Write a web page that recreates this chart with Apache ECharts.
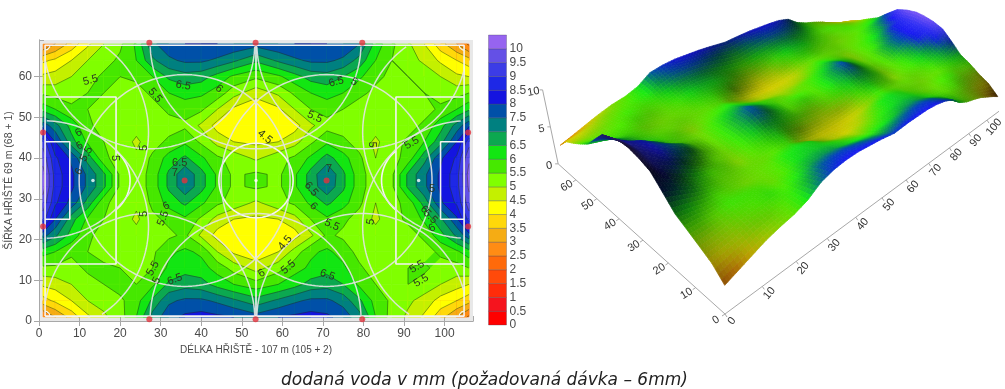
<!DOCTYPE html>
<html>
<head>
<meta charset="utf-8">
<title>dodaná voda</title>
<script src="https://cdn.jsdelivr.net/npm/echarts@6/dist/echarts.min.js"></script>
<style>
  html, body { margin: 0; padding: 0; background: #fff; }
  #chart { width: 1005px; height: 389px; }
</style>
</head>
<body>
<div id="chart"></div>
<script>
// grid of delivered water (mm)
const colX = [1, 4, 8, 12, 16, 20, 24, 28, 32, 36, 40, 44, 48, 53.5, 59, 63, 67, 71, 75, 79, 83, 87, 91, 95, 99, 103, 106];
const rowY = [68, 64, 60, 56, 52, 48, 44, 40, 36, 33, 29, 25, 21, 17, 13, 9, 5, 1];
const row68 = [2.5, 3.0, 3.7, 4.4, 5.0, 5.4, 6.1, 7.4, 7.8, 8.0, 8.0, 8.0, 7.9, 7.7, 7.9, 8.0, 8.0, 8.0, 7.9, 7.5, 6.3, 5.6, 5.1, 4.5, 3.7, 3.0, 2.4];
const row64 = [3.9, 4.1, 4.5, 5.0, 5.3, 5.6, 6.0, 6.9, 7.4, 7.6, 7.6, 7.4, 7.1, 6.6, 7.1, 7.4, 7.6, 7.6, 7.4, 6.8, 6.0, 5.5, 5.2, 4.9, 4.4, 4.0, 3.7];
const row60 = [4.6, 4.7, 5.0, 5.3, 5.6, 5.5, 5.6, 6.0, 6.6, 6.8, 6.7, 6.3, 5.9, 5.6, 5.9, 6.3, 6.7, 6.8, 6.5, 6.1, 5.6, 5.4, 5.5, 5.3, 5.0, 4.6, 4.5];
const row56 = [5.4, 5.3, 5.3, 5.5, 5.5, 5.3, 5.3, 5.6, 6.0, 6.2, 6.1, 5.8, 5.2, 4.7, 5.1, 5.6, 6.0, 6.2, 6.0, 5.6, 5.4, 5.2, 5.3, 5.5, 5.3, 5.3, 5.5];
const row52 = [6.3, 6.0, 5.6, 5.5, 5.2, 5.1, 5.2, 5.3, 5.6, 5.7, 5.6, 5.0, 4.4, 4.1, 4.4, 5.0, 5.5, 5.7, 5.5, 5.3, 5.2, 5.1, 5.2, 5.3, 5.6, 6.0, 6.4];
const row48 = [7.8, 7.2, 6.3, 5.6, 5.3, 5.2, 5.2, 5.2, 5.3, 5.4, 4.9, 4.3, 4.1, 4.0, 4.1, 4.3, 4.9, 5.3, 5.3, 5.2, 5.2, 5.2, 5.3, 5.6, 6.3, 7.2, 7.9];
const row44 = [9.3, 8.0, 6.7, 5.9, 5.5, 5.3, 4.9, 5.3, 5.6, 5.9, 5.4, 4.8, 4.5, 4.4, 4.5, 4.8, 5.4, 5.9, 5.6, 5.3, 4.9, 5.3, 5.6, 6.0, 6.8, 8.0, 9.3];
const row40 = [9.8, 8.6, 7.9, 6.8, 5.6, 5.3, 5.1, 5.6, 6.2, 6.6, 6.1, 5.6, 5.3, 4.9, 5.3, 5.6, 6.1, 6.7, 6.2, 5.6, 5.0, 5.3, 5.7, 6.8, 7.9, 8.6, 9.9];
const row36 = [10.2, 8.8, 8.1, 7.4, 6.6, 5.4, 5.2, 5.7, 6.6, 7.4, 6.7, 5.9, 5.4, 5.6, 5.4, 5.9, 6.7, 7.5, 6.6, 5.7, 5.2, 5.4, 6.6, 7.4, 8.1, 8.8, 10.2];
const row33 = [10.2, 8.8, 8.1, 7.4, 6.6, 5.4, 5.2, 5.7, 6.6, 7.4, 6.7, 5.9, 5.4, 5.6, 5.4, 5.9, 6.7, 7.4, 6.6, 5.7, 5.2, 5.4, 6.6, 7.4, 8.1, 8.8, 10.1];
const row29 = [9.8, 8.6, 7.8, 6.8, 5.6, 5.3, 5.1, 5.6, 6.2, 6.6, 6.1, 5.6, 5.3, 4.9, 5.3, 5.6, 6.1, 6.6, 6.2, 5.6, 5.0, 5.3, 5.7, 6.7, 7.9, 8.6, 9.8];
const row25 = [9.2, 8.0, 6.7, 5.9, 5.5, 5.3, 4.9, 5.4, 5.6, 5.9, 5.4, 4.8, 4.5, 4.4, 4.5, 4.8, 5.5, 5.9, 5.6, 5.3, 4.9, 5.3, 5.6, 6.1, 6.9, 7.9, 9.2];
const row21 = [7.7, 7.1, 6.3, 5.6, 5.3, 5.2, 5.2, 5.2, 5.4, 5.6, 4.9, 4.3, 4.1, 4.0, 4.1, 4.3, 4.9, 5.6, 5.4, 5.2, 5.2, 5.2, 5.3, 5.6, 6.3, 7.1, 7.8];
const row17 = [6.2, 6.0, 5.6, 5.5, 5.3, 5.1, 5.2, 5.4, 5.9, 6.1, 5.9, 5.0, 4.4, 4.1, 4.5, 5.2, 5.9, 6.1, 5.8, 5.3, 5.2, 5.1, 5.2, 5.3, 5.6, 5.9, 6.3];
const row13 = [5.4, 5.4, 5.3, 5.6, 5.6, 5.5, 5.2, 5.5, 6.1, 6.3, 6.2, 5.8, 5.3, 4.8, 5.3, 5.8, 6.1, 6.3, 6.1, 5.6, 5.2, 5.2, 5.5, 5.6, 5.3, 5.3, 5.5];
const row9 = [4.6, 4.7, 5.0, 5.3, 5.5, 5.7, 5.5, 5.9, 6.6, 6.8, 6.7, 6.3, 6.0, 5.7, 6.0, 6.3, 6.7, 6.8, 6.5, 5.9, 5.5, 5.3, 5.5, 5.3, 5.0, 4.7, 4.5];
const row5 = [3.8, 4.1, 4.5, 5.0, 5.2, 5.4, 5.8, 6.6, 7.4, 7.6, 7.6, 7.4, 7.1, 6.7, 7.1, 7.4, 7.6, 7.6, 7.3, 6.6, 5.8, 5.4, 5.1, 4.8, 4.3, 4.0, 3.7];
const row1 = [2.5, 3.0, 3.7, 4.4, 4.9, 5.3, 6.0, 7.2, 7.8, 8.1, 8.2, 8.1, 8.0, 7.7, 8.0, 8.1, 8.2, 8.1, 7.8, 7.2, 6.0, 5.3, 4.9, 4.4, 3.7, 3.0, 2.4];
const fieldRows = [row68, row64, row60, row56, row52, row48, row44, row40, row36, row33, row29, row25, row21, row17, row13, row9, row5, row1];

// colour bands, one per 0.5 mm step
const levels = [0, 0.5, 1, 1.5, 2, 2.5, 3, 3.5, 4, 4.5, 5, 5.5, 6, 6.5, 7, 7.5, 8, 8.5, 9, 9.5, 10];
const bandColors = ['#ff0000', '#f5141e', '#ff2c0a', '#ff4a0a', '#ff6a0a', '#ff8c14', '#f5ac14', '#ffd80a', '#ffff00', '#c4f000', '#80ff00', '#46e800', '#12e612', '#0ca850', '#008080', '#0050a8', '#1414e0', '#1e28e6', '#3c3ce6', '#6450e6', '#9664f0'];
const surfaceStops = [2, 3, 4, 4.5, 5, 5.5, 6, 6.5, 7, 7.5, 8, 9, 10, 11];
const surfaceColors = ['#b05008', '#d88008', '#d0c800', '#a4c800', '#74cc00', '#48e000', '#14e014', '#10a830', '#008060', '#0048a8', '#1414e8', '#3434e8', '#7050e8', '#9060f0'];

// pitch markings and sprinklers, in metres
const touchline = [[1.5, 1.2], [104.8, 1.2], [104.8, 67.7], [1.5, 67.7], [1.5, 1.2]];
const halfwayLine = [[53.5, 1.2], [53.5, 67.7]];
const penaltyLeft = [[1.5, 14], [19, 14], [19, 55], [1.5, 55]];
const penaltyRight = [[104.8, 14], [88, 14], [88, 55], [104.8, 55]];
const goalLeft = [[1.5, 25], [7.6, 25], [7.6, 44], [1.5, 44]];
const goalRight = [[104.8, 25], [99, 25], [99, 44], [104.8, 44]];
const sprinklers = [[27.2, 0.4], [53.4, 0.4], [79.7, 0.4], [27.2, 68.3], [53.4, 68.3], [79.7, 68.3], [1, 46.3], [1, 23.2], [105.8, 46.3], [105.8, 23.2], [35.9, 34.5], [70.9, 34.5]];
const spots = [[13.3, 34.5], [93.6, 34.5], [53.5, 34.5]];
const cornerSpots = [[1.5, 1.2], [104.8, 1.2], [1.5, 67.7], [104.8, 67.7]];
const centerCircle = { c: [53.5, 34.5], r: 9.15 };
const sprinklerRadius = 26;

// contour labels: x, y, text, rotation
const contourLabels = [
  [12.7, 59.1, '5.5', 15], [28.6, 55.4, '5.5', -50], [35.6, 57.8, '6.5', -10], [44.4, 57, '6', -45],
  [9.8, 46.2, '6', 30], [10, 43, '6', 30], [11.7, 41, '5.5', 60], [25.9, 42.5, '5', 90], [18.7, 40, '5', -90],
  [34.7, 38.8, '6.5', 0], [33.5, 36.3, '7', 0], [9.9, 36.7, '6', 60], [25.9, 26.3, '5', 90],
  [30.6, 25.2, '5.5', 70], [31.4, 28.2, '6', 30], [28.1, 12.9, '5.5', 60], [29, 9.9, '5', 60], [33.5, 10.2, '6.5', 20],
  [73.3, 58.7, '6.5', 15], [77.7, 58.7, '5', -30], [68, 50.1, '5.5', -25], [55.7, 45.2, '4.5', -40],
  [82, 43.3, '5', -90], [91.9, 43.7, '5.5', 30], [71.5, 37.3, '7', 0], [67.1, 32.4, '6.5', -50],
  [96.9, 32.4, '5', 0], [67.7, 28.2, '6', -45], [81.8, 24.4, '5', 80], [72.2, 23.6, '5.5', -25],
  [96.9, 22.8, '6', 30], [96.5, 25.6, '5.5', -45], [95, 27.4, '6', -45], [60.7, 19.2, '4.5', 50],
  [61.5, 13.2, '5.5', 40], [54.9, 11.7, '6', 30], [71.1, 11.3, '6.5', -20], [93.2, 13.3, '5.5', 30], [94.2, 9.9, '5.5', 30]
];

const xTicks3d = [0, 10, 20, 30, 40, 50, 60, 70, 80, 90, 100];
const yTicks3d = [0, 10, 20, 30, 40, 50, 60];
const zTicks3d = [0, 5, 10];

const axisGrey = '#a8a8a8';
const textGrey = '#4a4a4a';

function bandIndex(v) {
  return Math.max(0, Math.min(levels.length - 1, Math.floor(v / 0.5)));
}

// cells of the contour map
const cells = [];
for (let r = 0; r < rowY.length - 1; r++) {
  for (let c = 0; c < colX.length - 1; c++) cells.push([c, r]);
}

function cellCorners(c, r) {
  return [
    [colX[c], rowY[r], fieldRows[r][c]],
    [colX[c + 1], rowY[r], fieldRows[r][c + 1]],
    [colX[c + 1], rowY[r + 1], fieldRows[r + 1][c + 1]],
    [colX[c], rowY[r + 1], fieldRows[r + 1][c]]
  ];
}

// keep the part of the cell at or above level, returns polygon and crossing points
function clipCell(pts, level) {
  const poly = [];
  const cross = [];
  for (let i = 0; i < pts.length; i++) {
    const a = pts[i];
    const b = pts[(i + 1) % pts.length];
    if (a[2] >= level) poly.push(a);
    if ((a[2] >= level) !== (b[2] >= level)) {
      const t = (level - a[2]) / (b[2] - a[2]);
      const p = [a[0] + (b[0] - a[0]) * t, a[1] + (b[1] - a[1]) * t, level];
      poly.push(p);
      cross.push(p);
    }
  }
  return { poly, cross };
}

function renderBands(params, api) {
  const pts = cellCorners(api.value(0), api.value(1));
  const vals = pts.map(p => p[2]);
  const lo = bandIndex(Math.min.apply(null, vals));
  const hi = bandIndex(Math.max.apply(null, vals));
  const children = [];
  for (let b = lo; b <= hi; b++) {
    const poly = b === lo ? pts : clipCell(pts, levels[b]).poly;
    children.push({
      type: 'polygon',
      shape: { points: poly.map(p => api.coord([p[0], p[1]])) },
      style: { fill: bandColors[b], stroke: bandColors[b], lineWidth: 0.6 }
    });
  }
  return { type: 'group', children };
}

function renderContours(params, api) {
  const pts = cellCorners(api.value(0), api.value(1));
  const children = [];
  levels.forEach(lv => {
    const cross = clipCell(pts, lv).cross;
    for (let i = 0; i + 1 < cross.length; i += 2) {
      const p = api.coord([cross[i][0], cross[i][1]]);
      const q = api.coord([cross[i + 1][0], cross[i + 1][1]]);
      children.push({
        type: 'line',
        shape: { x1: p[0], y1: p[1], x2: q[0], y2: q[1] },
        style: { stroke: 'rgba(30,50,20,0.65)', lineWidth: 0.7 }
      });
    }
  });
  return { type: 'group', children };
}

function renderContourLabel(params, api) {
  const item = contourLabels[params.dataIndex];
  const p = api.coord([item[0], item[1]]);
  return {
    type: 'text',
    x: p[0],
    y: p[1],
    rotation: item[3] * Math.PI / 180,
    style: { text: item[2], fill: '#2c3a20', font: '11px "Liberation Sans"', align: 'center', verticalAlign: 'middle' }
  };
}

function renderColorBar(params, api) {
  const b = api.value(0);
  const p = api.coord([0, levels[b] + 0.5]);
  const q = api.coord([1, levels[b]]);
  return {
    type: 'rect',
    shape: { x: p[0], y: p[1], width: q[0] - p[0], height: q[1] - p[1] },
    style: { fill: bandColors[b], stroke: 'rgba(70,70,90,0.55)', lineWidth: 0.6 }
  };
}

// circle outline, cut where it leaves the allowed x range or the field
function circlePoints(c, r, xMin, xMax) {
  const lo = xMin === undefined ? 1.5 : xMin;
  const hi = xMax === undefined ? 104.8 : xMax;
  const out = [];
  for (let a = 0; a <= 180; a++) {
    const t = a * Math.PI / 90;
    const x = c[0] + r * Math.cos(t);
    const y = c[1] + r * Math.sin(t);
    if (x < lo || x > hi || y < 1.2 || y > 67.7) out.push([NaN, NaN]);
    else out.push([x, y]);
  }
  return out;
}

function lineSeries(points, color, width) {
  return {
    type: 'line', xAxisIndex: 0, yAxisIndex: 0, data: points, symbol: 'none', silent: true,
    connectNulls: false, animation: false, z: 4,
    lineStyle: { color: color, width: width }
  };
}

// perspective of the right hand surface
function project(x, y, z) {
  const den = 1 + 0.00495 * x + 0.00373 * y;
  const u = (725 + 7.506 * x - 0.336 * y) / den;
  const v = (314 - 1.344 * x - 1.565 * y) / den;
  const up = 9.3 * z / den;
  return [u + up * (u - 770) / (1170 - v), v - up];
}

function hexRgb(h) {
  return [parseInt(h.slice(1, 3), 16), parseInt(h.slice(3, 5), 16), parseInt(h.slice(5, 7), 16)];
}

function surfaceRgb(v) {
  let i = 0;
  while (i < surfaceStops.length - 2 && v > surfaceStops[i + 1]) i++;
  const t = Math.max(0, Math.min(1, (v - surfaceStops[i]) / (surfaceStops[i + 1] - surfaceStops[i])));
  const a = hexRgb(surfaceColors[i]);
  const b = hexRgb(surfaceColors[i + 1]);
  return [0, 1, 2].map(k => a[k] + (b[k] - a[k]) * t);
}

// shaded colour at each grid node, light comes from the -x +y side
const nodeRgb = rowY.map((y, r) => colX.map((x, c) => {
  const c0 = Math.max(0, c - 1), c1 = Math.min(colX.length - 1, c + 1);
  const r0 = Math.max(0, r - 1), r1 = Math.min(rowY.length - 1, r + 1);
  const dzx = (fieldRows[r][c1] - fieldRows[r][c0]) / (colX[c1] - colX[c0]);
  const dzy = (fieldRows[r1][c] - fieldRows[r0][c]) / (rowY[r1] - rowY[r0]);
  const nx = -dzx * 2.4, ny = -dzy * 2.4, len = Math.sqrt(nx * nx + ny * ny + 1);
  const lit = (nx * -0.6 + ny * 0.42 + 0.68) / len;
  const shade = Math.max(0.12, Math.min(1.05, 0.22 + 1.12 * lit));
  return surfaceRgb(fieldRows[r][c]).map(k => k * shade);
}));

const surfaceCells = cells.slice().sort((a, b) => {
  const da = 0.00495 * colX[a[0]] + 0.00373 * rowY[a[1]];
  const db = 0.00495 * colX[b[0]] + 0.00373 * rowY[b[1]];
  return db - da;
});

const SUB = 4;
function renderSurface(params, api) {
  const c = api.value(0), r = api.value(1);
  const xs = [colX[c], colX[c + 1]];
  const ys = [rowY[r], rowY[r + 1]];
  const node = (s, t) => {
    const w = [(1 - s) * (1 - t), s * (1 - t), s * t, (1 - s) * t];
    const zs = [fieldRows[r][c], fieldRows[r][c + 1], fieldRows[r + 1][c + 1], fieldRows[r + 1][c]];
    const cs = [nodeRgb[r][c], nodeRgb[r][c + 1], nodeRgb[r + 1][c + 1], nodeRgb[r + 1][c]];
    return {
      p: project(xs[0] + (xs[1] - xs[0]) * s, ys[0] + (ys[1] - ys[0]) * t, w[0] * zs[0] + w[1] * zs[1] + w[2] * zs[2] + w[3] * zs[3]),
      rgb: [0, 1, 2].map(k => w[0] * cs[0][k] + w[1] * cs[1][k] + w[2] * cs[2][k] + w[3] * cs[3][k])
    };
  };
  const children = [];
  // rows run from y high to y low, so t grows towards the viewer
  for (let a = SUB - 1; a >= 0; a--) {
    for (let b = 0; b < SUB; b++) {
      const n = [node(a / SUB, b / SUB), node((a + 1) / SUB, b / SUB), node((a + 1) / SUB, (b + 1) / SUB), node(a / SUB, (b + 1) / SUB)];
      const m = [0, 1, 2].map(k => Math.round((n[0].rgb[k] + n[1].rgb[k] + n[2].rgb[k] + n[3].rgb[k]) / 4));
      const col = 'rgb(' + m.join(',') + ')';
      children.push({
        type: 'polygon',
        shape: { points: n.map(q => q.p) },
        style: { fill: col, stroke: col, lineWidth: 0.7 }
      });
    }
  }
  return { type: 'group', children };
}

function axisText(p, text, rot) {
  return {
    type: 'text', x: p[0], y: p[1], rotation: rot * Math.PI / 180,
    style: { text: text, fill: '#333', font: '11px "Liberation Sans"', align: 'center', verticalAlign: 'middle' }
  };
}

function axisLine(p, q) {
  return { type: 'line', shape: { x1: p[0], y1: p[1], x2: q[0], y2: q[1] }, style: { stroke: axisGrey, lineWidth: 1 } };
}

function renderAxes3d() {
  const children = [
    axisLine(project(0, 0, 0), project(107, 0, 0)),
    axisLine(project(0, 0, 0), project(0, 69, 0)),
    axisLine(project(0, 69, 0), project(0, 69, 10))
  ];
  xTicks3d.forEach(t => {
    const p = project(t, 0, 0);
    children.push(axisLine(p, [p[0] + 2, p[1] + 3]));
    children.push(axisText([p[0] + 7, p[1] + 7], String(t), 50));
  });
  yTicks3d.forEach(t => {
    const p = project(0, t, 0);
    children.push(axisLine(p, [p[0] - 3, p[1] + 2]));
    children.push(axisText([p[0] - 9, p[1] + 6], String(t), 32));
  });
  zTicks3d.forEach(t => {
    const p = project(0, 69, t);
    children.push(axisLine(p, [p[0] - 3, p[1]]));
    children.push(axisText([p[0] - 9, p[1] + 2], String(t), 10));
  });
  return { type: 'group', children };
}

const myChart = echarts.init(document.getElementById('chart'));

const valueLabel = { color: textGrey, fontSize: 12, fontFamily: 'Liberation Sans' };
const sideAxis = {
  gridIndex: 0, type: 'value', axisLabel: { show: false }, splitLine: { show: false },
  axisLine: { show: true, lineStyle: { color: axisGrey } },
  axisTick: { show: true, length: 5, lineStyle: { color: axisGrey } }
};

const white = '#f4f4f4';
const option = {
  animation: false,
  backgroundColor: '#fff',
  title: {
    text: 'dodaná voda v mm (požadovaná dávka – 6mm)',
    left: 276,
    top: 367,
    textStyle: { fontFamily: 'DejaVu Sans', fontStyle: 'italic', fontWeight: 'normal', fontSize: 17, color: '#222' }
  },
  grid: [
    { left: 39, top: 40, width: 434, height: 281, show: true, backgroundColor: '#e8e8e8', borderWidth: 0 },
    { left: 488.5, top: 35, width: 18, height: 290 }
  ],
  xAxis: [
    Object.assign({}, sideAxis, {
      position: 'bottom', min: 0, max: 107, interval: 10,
      axisLabel: Object.assign({ show: true, margin: 7, showMaxLabel: false }, valueLabel),
      name: 'DÉLKA HŘIŠTĚ - 107 m (105 + 2)', nameLocation: 'middle', nameGap: 24,
      nameTextStyle: { color: textGrey, fontSize: 10, fontFamily: 'Liberation Sans' }
    }),
    Object.assign({}, sideAxis, { position: 'top', min: 0, max: 107, interval: 10 }),
    { gridIndex: 1, type: 'value', min: 0, max: 1, show: false }
  ],
  yAxis: [
    Object.assign({}, sideAxis, {
      position: 'left', min: 0, max: 69, interval: 10,
      axisLabel: Object.assign({ show: true, margin: 7, showMaxLabel: false }, valueLabel),
      name: 'ŠÍŘKA HŘIŠTĚ 69 m (68 + 1)', nameLocation: 'middle', nameGap: 21,
      nameTextStyle: { color: textGrey, fontSize: 10.5, fontFamily: 'Liberation Sans' }
    }),
    Object.assign({}, sideAxis, { position: 'right', min: 0, max: 69, interval: 10 }),
    {
      gridIndex: 1, type: 'value', position: 'right', min: 0, max: 10.5, interval: 0.5,
      axisLine: { show: false }, axisTick: { show: false }, splitLine: { show: false },
      axisLabel: Object.assign({ margin: 3, formatter: v => (v > 10 ? '' : String(v)) }, valueLabel)
    }
  ],
  series: [
    { type: 'custom', xAxisIndex: 0, yAxisIndex: 0, data: cells, renderItem: renderBands, silent: true, z: 2 },
    { type: 'custom', xAxisIndex: 0, yAxisIndex: 0, data: cells, renderItem: renderContours, silent: true, z: 3 },
    lineSeries(touchline, white, 1.6),
    lineSeries(halfwayLine, white, 1.6),
    lineSeries(penaltyLeft, white, 1.6),
    lineSeries(penaltyRight, white, 1.6),
    lineSeries(goalLeft, white, 1.6),
    lineSeries(goalRight, white, 1.6),
    lineSeries(circlePoints(centerCircle.c, centerCircle.r), white, 1.6),
    lineSeries(circlePoints(spots[0], centerCircle.r, 19), white, 1.6),
    lineSeries(circlePoints(spots[1], centerCircle.r, 1.5, 88), white, 1.6)
  ].concat(cornerSpots.map(s => lineSeries(circlePoints(s, 1.2), white, 1.2)))
   .concat(sprinklers.map(s => lineSeries(circlePoints(s, sprinklerRadius), 'rgba(228,228,228,0.9)', 1.5))).concat([
    { type: 'custom', xAxisIndex: 0, yAxisIndex: 0, data: contourLabels.map(l => [l[0], l[1]]), renderItem: renderContourLabel, silent: true, z: 5 },
    { type: 'scatter', xAxisIndex: 0, yAxisIndex: 0, data: sprinklers, symbolSize: 6, itemStyle: { color: '#e2323c' }, silent: true, z: 6 },
    { type: 'scatter', xAxisIndex: 0, yAxisIndex: 0, data: spots, symbolSize: 3.5, itemStyle: { color: '#fff' }, silent: true, z: 6 },
    { type: 'custom', xAxisIndex: 2, yAxisIndex: 2, data: levels.map((l, i) => [i]), renderItem: renderColorBar, silent: true },
    { type: 'custom', coordinateSystem: 'none', data: [[0]], renderItem: renderAxes3d, silent: true, z: 1 },
    { type: 'custom', coordinateSystem: 'none', data: surfaceCells, renderItem: renderSurface, silent: true, z: 2 }
  ])
};

option && myChart.setOption(option, true);
</script>
</body>
</html>
